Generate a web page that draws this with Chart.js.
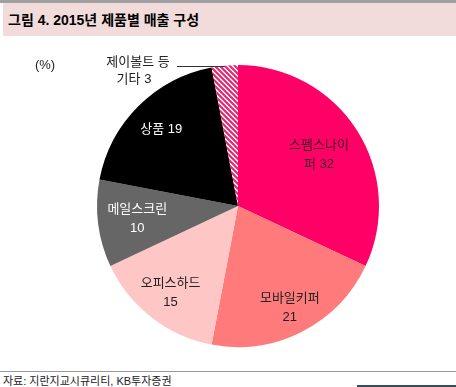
<!DOCTYPE html>
<html>
<head>
<meta charset="utf-8">
<script src="https://cdn.jsdelivr.net/npm/chart.js@4"></script>
<style>
  body { margin: 0; width: 456px; height: 387px; background: #fff; position: relative; overflow: hidden;
         font-family: "Liberation Sans", "Noto Sans CJK KR", sans-serif; }
  #topline { position: absolute; left: 0; top: 0; width: 456px; height: 3px; background: #a0a0a0; }
  #title { position: absolute; left: 3px; top: 3px; width: 453px; height: 33px; background: #f2dcdb;
           font-weight: bold; font-size: 14px; line-height: 35px; padding-left: 5px; box-sizing: border-box; color: #000; }
  #wrap { position: absolute; left: 0; top: 36px; width: 456px; height: 335px; }
  #botline { position: absolute; left: 0; top: 371px; width: 456px; height: 1px; background: #999; }
  #source { position: absolute; left: 3px; top: 373px; font-size: 11px; line-height: 16px; color: #222; }
  #bar { position: absolute; left: 357px; top: 385px; width: 99px; height: 2px; background: #3d4a58; }
</style>
</head>
<body>
<div id="topline"></div>
<div id="title">그림 4. 2015년 제품별 매출 구성</div>
<div id="wrap"><canvas id="pieChart"></canvas></div>
<div id="botline"></div>
<div id="source">자료: 지란지교시큐리티, KB투자증권</div>
<div id="bar"></div>
<script>
// 2015 sales mix (%), clockwise from 12 o'clock
const products = ['스펨스나이퍼', '모바일키퍼', '오피스하드', '메일스크린', '상품', '제이볼트 등 기타'];
const shares = [32, 21, 15, 10, 19, 3];
const labelLines = [
  ['스펨스나이', '퍼 32'],
  ['모바일키퍼', '21'],
  ['오피스하드', '15'],
  ['메일스크린', '10'],
  ['상품 19'],
  ['제이볼트 등', '기타 3']
];

// hatch for the small slice
function hatch() {
  const c = document.createElement('canvas');
  c.width = 5; c.height = 5;
  const g = c.getContext('2d');
  g.fillStyle = '#fff';
  g.fillRect(0, 0, 5, 5);
  g.strokeStyle = '#ec1f6a';
  g.lineWidth = 2;
  g.beginPath();
  g.moveTo(0, 0); g.lineTo(5, 5);
  g.moveTo(-3, 2); g.lineTo(3, 8);
  g.moveTo(2, -3); g.lineTo(8, 3);
  g.stroke();
  return g.createPattern(c, 'repeat');
}

const colors = ['#ff0066', '#ff7a7a', '#ffc6c6', '#666666', '#000000', hatch()];
const textColors = ['#3a1a28', '#222', '#222', '#fff', '#fff', '#222'];
const labelRadius = [0.68, 0.81, 0.78, 0.72, 0.77, 0];

const sliceLabels = {
  id: 'sliceLabels',
  afterDatasetsDraw(chart) {
    const ctx = chart.ctx;
    const arcs = chart.getDatasetMeta(0).data;
    ctx.save();
    ctx.font = '13px "Liberation Sans", "Noto Sans CJK KR", sans-serif';
    ctx.textAlign = 'center';
    ctx.textBaseline = 'middle';
    arcs.forEach((arc, i) => {
      const p = arc.getProps(['x', 'y', 'startAngle', 'endAngle', 'outerRadius']);
      const mid = (p.startAngle + p.endAngle) / 2;
      const lines = labelLines[i];
      if (labelRadius[i] === 0) {
        // outside label with leader line
        const ex = p.x + Math.cos(mid) * p.outerRadius;
        const ey = p.y + Math.sin(mid) * p.outerRadius;
        ctx.strokeStyle = '#333';
        ctx.lineWidth = 1;
        ctx.beginPath();
        ctx.moveTo(177, Math.round(ey) + 0.5);
        ctx.lineTo(ex, Math.round(ey) + 0.5);
        ctx.stroke();
        ctx.fillStyle = textColors[i];
        ctx.fillText(lines[0], 138, ey - 3);
        ctx.fillText(lines[1], 134, ey + 14);
        return;
      }
      const r = p.outerRadius * labelRadius[i];
      const cx = p.x + Math.cos(mid) * r;
      const cy = p.y + Math.sin(mid) * r;
      ctx.fillStyle = textColors[i];
      const h = 19;
      lines.forEach((t, k) => {
        ctx.fillText(t, cx, cy + (k - (lines.length - 1) / 2) * h);
      });
    });
    // unit
    ctx.fillStyle = '#222';
    ctx.fillText('(%)', 45, 29);
    ctx.restore();
  }
};

new Chart(document.getElementById('pieChart'), {
  type: 'pie',
  data: {
    labels: products,
    datasets: [{
      data: shares,
      backgroundColor: colors,
      borderWidth: 0,
      hoverOffset: 0
    }]
  },
  options: {
    responsive: true,
    maintainAspectRatio: false,
    animation: false,
    layout: { padding: { top: 29, bottom: 24, left: 97, right: 77 } },
    plugins: {
      legend: { display: false },
      tooltip: { enabled: false }
    }
  },
  plugins: [sliceLabels]
});
</script>
</body>
</html>
